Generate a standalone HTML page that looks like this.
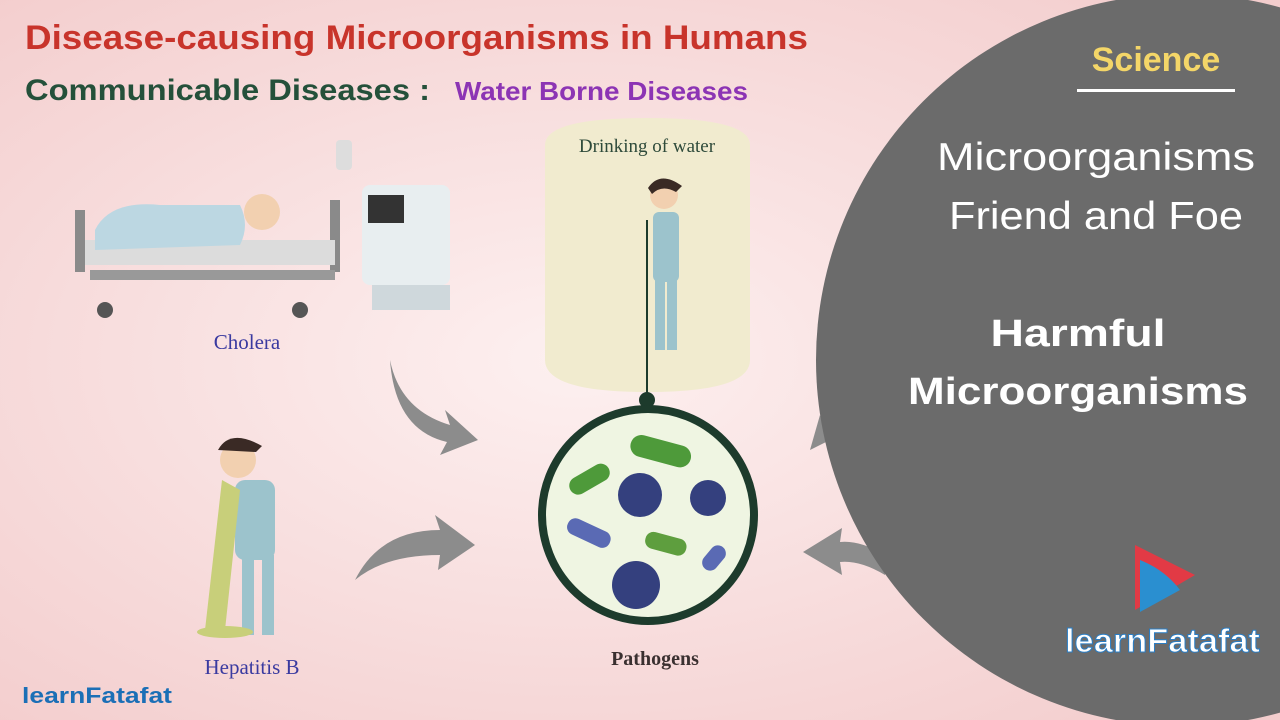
<!DOCTYPE html>
<html><head><meta charset="utf-8"><style>
html,body{margin:0;padding:0;width:1280px;height:720px;overflow:hidden}
body{background:radial-gradient(ellipse at 45% 50%,#fdeeee 0%,#f8dcdc 60%,#f3caca 100%)}
svg{display:block}
</style></head><body>
<svg width="1280" height="720" viewBox="0 0 1280 720" font-family="Liberation Sans, sans-serif">
<defs>
<radialGradient id="bg" cx="0.45" cy="0.5" r="0.7"><stop offset="0" stop-color="#fdf0f0"/><stop offset="1" stop-color="#f3cdcd"/></radialGradient>
</defs>
<rect width="1280" height="720" fill="url(#bg)"/>
<text x="25" y="49" font-size="34" font-weight="bold" fill="#c8342b" textLength="783" lengthAdjust="spacingAndGlyphs">Disease-causing Microorganisms in Humans</text>
<text x="25" y="100" font-size="30" font-weight="bold" fill="#24503a" textLength="405" lengthAdjust="spacingAndGlyphs">Communicable Diseases :</text>
<text x="455" y="100" font-size="26" font-weight="bold" fill="#8c34b4" textLength="293" lengthAdjust="spacingAndGlyphs">Water Borne Diseases</text>
<!-- drinking cylinder -->
<path d="M545 145 Q545 118 647 118 Q750 118 750 145 L750 360 Q750 392 647 392 Q545 392 545 360Z" fill="#f1ebcf"/>
<text x="647" y="152" font-size="19" font-family="Liberation Serif, serif" fill="#2e4a3a" text-anchor="middle">Drinking of water</text>
<!-- person drinking -->
<circle cx="664" cy="195" r="14" fill="#f2d0b0"/>
<path d="M648 188 Q660 170 682 186 L676 192 Q662 184 652 194Z" fill="#3a2a25"/>
<rect x="653" y="212" width="26" height="70" rx="6" fill="#9cc3cc"/>
<rect x="655" y="280" width="10" height="70" fill="#9cc3cc"/><rect x="667" y="280" width="10" height="70" fill="#9cc3cc"/>
<line x1="647" y1="220" x2="647" y2="395" stroke="#1d3b2c" stroke-width="2"/>
<circle cx="647" cy="400" r="8" fill="#1d3b2c"/>
<!-- pathogens -->
<circle cx="648" cy="515" r="106" fill="#eff5e2" stroke="#1d3b2c" stroke-width="8"/>
<rect x="630" y="440" width="62" height="22" rx="11" fill="#4e9a3a" transform="rotate(15 660 450)"/>
<rect x="568" y="470" width="44" height="18" rx="9" fill="#4e9a3a" transform="rotate(-30 590 480)"/>
<circle cx="640" cy="495" r="22" fill="#34407e"/>
<circle cx="708" cy="498" r="18" fill="#34407e"/>
<circle cx="636" cy="585" r="24" fill="#34407e"/>
<rect x="566" y="525" width="46" height="17" rx="8" fill="#5a6ab4" transform="rotate(25 590 533)"/>
<rect x="645" y="535" width="42" height="17" rx="8" fill="#5e9e3e" transform="rotate(15 665 543)"/>
<rect x="700" y="550" width="28" height="16" rx="8" fill="#5a6ab4" transform="rotate(-50 714 558)"/>
<text x="655" y="665" font-size="20" font-family="Liberation Serif, serif" font-weight="bold" fill="#3a3030" text-anchor="middle">Pathogens</text>
<!-- hospital bed -->
<rect x="75" y="210" width="10" height="62" fill="#8a8a8a"/><rect x="330" y="200" width="10" height="72" fill="#8a8a8a"/>
<rect x="85" y="240" width="250" height="25" fill="#dcdcdc"/>
<rect x="90" y="270" width="245" height="10" fill="#999"/>
<path d="M95 230 Q110 200 160 205 L240 205 Q250 225 240 245 L95 250Z" fill="#bcd7e2"/>
<circle cx="262" cy="212" r="18" fill="#f2d0b0"/>
<circle cx="105" cy="310" r="8" fill="#555"/><circle cx="300" cy="310" r="8" fill="#555"/>
<rect x="362" y="185" width="88" height="100" rx="8" fill="#e8eef0"/>
<rect x="368" y="195" width="36" height="28" fill="#333"/>
<rect x="372" y="285" width="78" height="25" fill="#cfd8dc"/>
<rect x="336" y="140" width="16" height="30" rx="4" fill="#ddd"/>
<text x="247" y="349" font-size="21" font-family="Liberation Serif, serif" fill="#3a3aa0" text-anchor="middle">Cholera</text>
<!-- hepatitis person -->
<circle cx="238" cy="460" r="18" fill="#f2d0b0"/>
<path d="M218 450 Q230 428 262 446 L256 452 Z" fill="#3a2a25"/>
<rect x="235" y="480" width="40" height="80" rx="10" fill="#9cc3cc"/>
<rect x="242" y="555" width="12" height="80" fill="#9cc3cc"/><rect x="262" y="555" width="12" height="80" fill="#9cc3cc"/>
<path d="M222 480 L240 490 L225 630 L205 630Z" fill="#c8cf7a"/>
<ellipse cx="225" cy="632" rx="28" ry="6" fill="#c8cf7a"/>
<text x="252" y="674" font-size="21" font-family="Liberation Serif, serif" fill="#3a3aa0" text-anchor="middle">Hepatitis B</text>
<!-- arrows -->
<path d="M390 360 Q400 410 450 425 L445 410 L478 440 L440 455 L447 442 Q395 430 390 360Z" fill="#8c8c8c"/>
<path d="M355 580 Q380 530 440 530 L435 515 L475 545 L438 570 L440 555 Q385 555 355 580Z" fill="#8c8c8c"/>
<path d="M885 555 Q860 540 840 542 L842 528 L803 552 L842 575 L840 562 Q860 560 885 575Z" fill="#8c8c8c"/>
<path d="M820 415 L810 450 L830 440Z" fill="#8c8c8c"/>
<!-- logo left -->
<text x="22" y="703" font-size="22" font-weight="bold" fill="#1b6fb6" textLength="150" lengthAdjust="spacingAndGlyphs">learnFatafat</text>
<!-- right panel -->
<circle cx="1182" cy="360" r="366" fill="#6b6b6b"/>
<text x="1156" y="71" font-size="34" font-weight="bold" fill="#f4d668" text-anchor="middle">Science</text>
<rect x="1077" y="89" width="158" height="3" fill="#fff"/>
<text x="1096" y="170" font-size="39" fill="#fff" text-anchor="middle" textLength="318" lengthAdjust="spacingAndGlyphs">Microorganisms</text>
<text x="1096" y="229" font-size="39" fill="#fff" text-anchor="middle" textLength="294" lengthAdjust="spacingAndGlyphs">Friend and Foe</text>
<text x="1078" y="346" font-size="38" font-weight="bold" fill="#fff" text-anchor="middle" textLength="175" lengthAdjust="spacingAndGlyphs">Harmful</text>
<text x="1078" y="404" font-size="38" font-weight="bold" fill="#fff" text-anchor="middle" textLength="340" lengthAdjust="spacingAndGlyphs">Microorganisms</text>
<!-- logo right -->
<path d="M1135 545 L1195 575 L1135 610Z" fill="#e23a45"/>
<path d="M1140 560 Q1165 570 1180 590 L1140 612Z" fill="#2a8fd0"/>
<text x="1065" y="652" font-size="33" font-weight="bold" fill="#fff" stroke="#2a7dc4" stroke-width="1" textLength="195" lengthAdjust="spacingAndGlyphs">learnFatafat</text>
</svg>
</body></html>
